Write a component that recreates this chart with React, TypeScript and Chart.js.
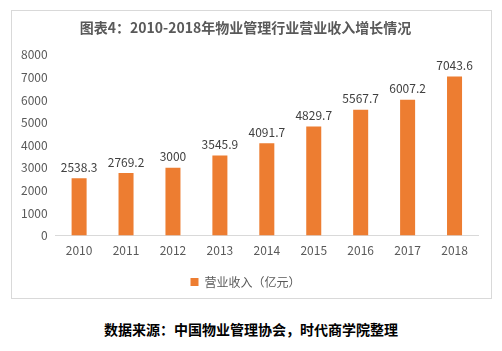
import React, { useEffect, useRef } from "react";
import { Chart, registerables } from "chart.js";

Chart.register(...registerables);

const years = ["2010", "2011", "2012", "2013", "2014", "2015", "2016", "2017", "2018"];
const revenue = [2538.3, 2769.2, 3000, 3545.9, 4091.7, 4829.7, 5567.7, 6007.2, 7043.6];
const revenueLabels = ["2538.3", "2769.2", "3000", "3545.9", "4091.7", "4829.7", "5567.7", "6007.2", "7043.6"];
const seriesName = "营业收入（亿元）";
const titleText = "图表4：2010-2018年物业管理行业营业收入增长情况";
const sourceText = "数据来源：中国物业管理协会，时代商学院整理";

const FONT = "'Noto Sans CJK SC', 'Noto Sans', sans-serif";

const labelPlugin = {
  id: "valueLabels",
  afterDatasetsDraw(chart: any) {
    const ctx = chart.ctx;
    const meta = chart.getDatasetMeta(0);
    ctx.save();
    ctx.font = `12px ${FONT}`;
    ctx.fillStyle = "#404040";
    ctx.textAlign = "center";
    ctx.textBaseline = "bottom";
    meta.data.forEach((bar: any, i: number) => {
      ctx.fillText(revenueLabels[i], bar.x, bar.y - 5);
    });
    ctx.restore();
  },
};

export default function App() {
  const ref = useRef<HTMLCanvasElement>(null);
  useEffect(() => {
    const chart = new Chart(ref.current!, {
      type: "bar",
      data: {
        labels: years,
        datasets: [
          {
            label: seriesName,
            data: revenue,
            backgroundColor: "#ED7D31",
            categoryPercentage: 1,
            barPercentage: 0.32,
          },
        ],
      },
      options: {
        animation: false,
        responsive: false,
        maintainAspectRatio: false,
        layout: { padding: { left: 1, right: 13, top: 0, bottom: 0 } },
        plugins: {
          title: {
            display: true,
            text: titleText,
            color: "#595959",
            font: { family: FONT, size: 14, weight: "bold" },
            padding: { top: 8, bottom: 19 },
          },
          legend: {
            display: true,
            position: "bottom",
            labels: {
              color: "#595959",
              font: { family: FONT, size: 12 },
              boxWidth: 8,
              boxHeight: 8,
              padding: 10,
            },
          },
          tooltip: { enabled: false },
        },
        scales: {
          x: {
            grid: { display: false, drawTicks: false },
            border: { display: true, color: "#d9d9d9" },
            ticks: { color: "#595959", font: { family: FONT, size: 12 }, padding: 8 },
          },
          y: {
            min: 0,
            max: 8000,
            grid: { display: false, drawTicks: false },
            border: { display: false },
            ticks: {
              stepSize: 1000,
              color: "#595959",
              font: { family: FONT, size: 12 },
              padding: 8,
              callback: (v: any) => String(v),
            },
          },
        },
      },
      plugins: [labelPlugin],
    });
    return () => chart.destroy();
  }, []);

  return (
    <div style={{ position: "absolute", left: 0, top: 0, width: 502, height: 351, background: "#fff" }}>
      <div
        style={{
          position: "absolute",
          left: 11,
          top: 10,
          width: 479,
          height: 287,
          border: "1px solid #d9d9d9",
        }}
      >
        <canvas ref={ref} width={479} height={287} style={{ display: "block" }} />
      </div>
      <div
        style={{
          position: "absolute",
          left: 0,
          width: 502,
          top: 319,
          textAlign: "center",
          fontFamily: FONT,
          fontWeight: "bold",
          fontSize: 14,
          color: "#000",
        }}
      >
        {sourceText}
      </div>
    </div>
  );
}
